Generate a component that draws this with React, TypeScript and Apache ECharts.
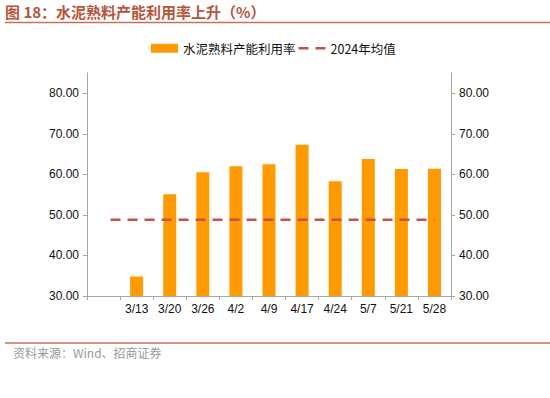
import React, { useEffect, useRef } from "react";
import * as echarts from "echarts";

const categories = ["", "3/13", "3/20", "3/26", "4/2", "4/9", "4/17", "4/24", "5/7", "5/21", "5/28"];
const utilization: (number | string)[] = ["-", 34.8, 55.1, 60.5, 62.0, 62.5, 67.3, 58.3, 63.8, 61.3, 61.4];
const avg2024 = [48.8, 48.8, 48.8, 48.8, 48.8, 48.8, 48.8, 48.8, 48.8, 48.8, 48.8];
const yTicks = [30, 40, 50, 60, 70, 80];

const titleText = "图 18：水泥熟料产能利用率上升（%）";
const sourceText = "资料来源：Wind、招商证券";
const barName = "水泥熟料产能利用率";
const lineName = "2024年均值";

export default function App() {
  const ref = useRef<HTMLDivElement>(null);
  useEffect(() => {
    if (!ref.current) return;
    const chart = echarts.init(ref.current, null, { renderer: "svg" });
    const font = "'Liberation Sans', Arial, 'Noto Sans CJK SC', sans-serif";
    const yAxisCommon = {
      type: "value" as const,
      min: 30,
      max: 85,
      interval: 10,
      splitLine: { show: false },
      axisLine: { show: true, lineStyle: { color: "#a6a6a6", width: 1 } },
      axisTick: { show: true, length: 4, inside: false, customValues: yTicks, lineStyle: { color: "#a6a6a6" } },
      axisLabel: {
        customValues: yTicks,
        color: "#111",
        fontSize: 12,
        fontFamily: font,
        margin: 8,
        formatter: (v: number) => v.toFixed(2),
      },
    };
    chart.setOption({
      animation: false,
      textStyle: { fontFamily: font },
      grid: { left: 87, right: 99, top: 73, bottom: 102 },
      legend: {
        left: 151,
        top: 42,
        padding: 0,
        itemGap: 3,
        itemWidth: 27,
        itemHeight: 9,
        symbolKeepAspect: true,
        textStyle: { fontSize: 12.5, color: "#111", fontFamily: "'Noto Sans CJK SC', 'Liberation Sans', sans-serif" },
        data: [
          { name: barName, icon: "rect" },
          { name: lineName, icon: "path://M0,0H10V2.5H0Z M17,0H27V2.5H17Z", itemStyle: { color: "#C8504A" } },
        ],
      },
      xAxis: {
        type: "category",
        data: categories,
        boundaryGap: true,
        axisLine: { lineStyle: { color: "#a6a6a6" } },
        axisTick: { show: true, length: 4, lineStyle: { color: "#a6a6a6" } },
        axisLabel: { color: "#111", fontSize: 12, margin: 7, interval: 0, fontFamily: font },
      },
      yAxis: [
        { ...yAxisCommon, position: "left" },
        { ...yAxisCommon, position: "right" },
      ],
      series: [
        {
          name: barName,
          type: "bar",
          data: utilization,
          barWidth: 13,
          itemStyle: { color: "#FF9A00" },
        },
        {
          name: lineName,
          type: "line",
          data: avg2024,
          symbol: "none",
          lineStyle: { color: "#C8504A", width: 2.5, type: [10, 7], dashOffset: 10 },
          itemStyle: { color: "#C8504A" },
        },
      ],
      graphic: [
        {
          type: "text",
          left: 5,
          top: 4,
          style: {
            text: titleText,
            fill: "#B5553A",
            fontSize: 15,
            fontWeight: "bold",
            fontFamily: "'Noto Sans CJK SC', sans-serif",
          },
        },
        {
          type: "line",
          shape: { x1: 5, y1: 22.5, x2: 550, y2: 22.5 },
          style: { stroke: "#C9714F", lineWidth: 1.5 },
        },
        {
          type: "line",
          shape: { x1: 5, y1: 343, x2: 550, y2: 343 },
          style: { stroke: "#C9714F", lineWidth: 1.5 },
        },
        {
          type: "text",
          left: 13,
          top: 346,
          style: {
            text: sourceText,
            fill: "#999",
            fontSize: 12,
            fontFamily: "'Noto Sans CJK SC', sans-serif",
          },
        },
      ],
    });
    return () => chart.dispose();
  }, []);
  return <div ref={ref} style={{ width: 550, height: 398, position: "absolute", left: 0, top: 0, background: "#fff" }} />;
}
